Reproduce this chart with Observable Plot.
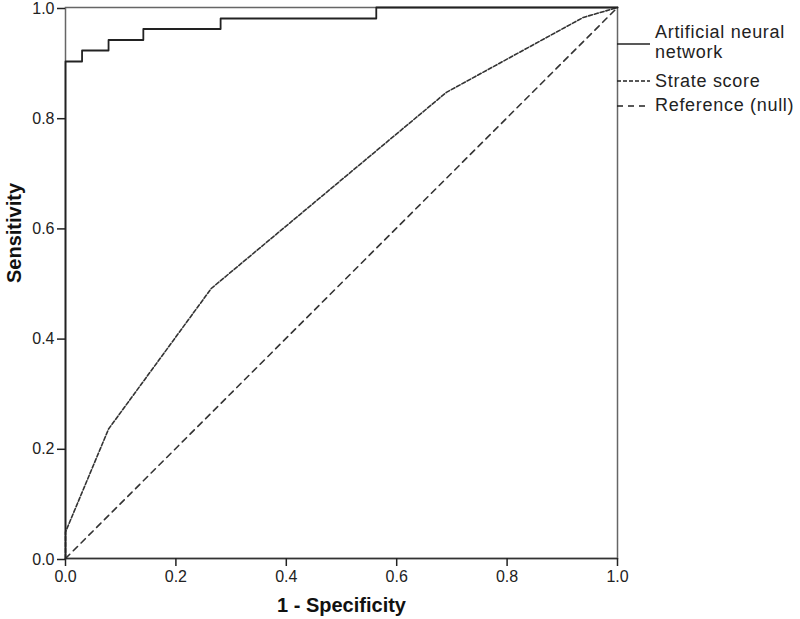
<!DOCTYPE html>
<html>
<head>
<meta charset="utf-8">
<script src="https://cdn.jsdelivr.net/npm/d3@7"></script>
<script src="https://cdn.jsdelivr.net/npm/@observablehq/plot@0.6"></script>
<style>
  html, body { margin: 0; padding: 0; background: #fff; }
  #chart { position: relative; width: 800px; height: 619px; }
  #legend { position: absolute; left: 0; top: 0; }
</style>
</head>
<body>
<div id="chart"></div>
<script>
// ROC curve data (1 - specificity, sensitivity)
const annFpr  = [0, 0, 0.030, 0.030, 0.078, 0.078, 0.141, 0.141, 0.281, 0.281, 0.563, 0.563, 1];
const annSens = [0, 0.902, 0.902, 0.922, 0.922, 0.941, 0.941, 0.961, 0.961, 0.980, 0.980, 1, 1];
const strateFpr  = [0, 0, 0.078, 0.264, 0.690, 0.938, 1];
const strateSens = [0, 0.048, 0.235, 0.490, 0.846, 0.982, 1];
const refFpr  = [0, 1];
const refSens = [0, 1];
const tickValues = [0, 0.2, 0.4, 0.6, 0.8, 1.0];
const seriesNames = ["Artificial neural network", "Strate score", "Reference (null)"];
const legendLines = [["Artificial neural", "network"], ["Strate score"], ["Reference (null)"]];
const dashes = [null, "4,2", "6,5"];

const ann = annFpr.map((x, i) => ({x, y: annSens[i]}));
const strate = strateFpr.map((x, i) => ({x, y: strateSens[i]}));
const ref = refFpr.map((x, i) => ({x, y: refSens[i]}));

const ML = 65, MR = 183, MT = 7, MB = 61;
const font = "Liberation Sans, Arial, sans-serif";

const plot = Plot.plot({
  width: 800,
  height: 619,
  marginLeft: ML,
  marginRight: MR,
  marginTop: MT,
  marginBottom: MB,
  style: {fontFamily: font, fontSize: "16px", color: "#222", background: "#fff", overflow: "visible"},
  x: {domain: [0, 1], ticks: tickValues, tickFormat: d3.format(".1f")},
  y: {domain: [0, 1], ticks: tickValues, tickFormat: d3.format(".1f")},
  marks: [
    Plot.frame({stroke: "#666", strokeWidth: 1.5}),
    Plot.ruleY([0], {stroke: "#333", strokeWidth: 1.5}),
    Plot.axisX({ticks: tickValues, tickFormat: d3.format(".1f"), tickSize: 8, tickPadding: 4, fontSize: 16, stroke: "#222", fill: "#222", strokeWidth: 1.5, label: null}),
    Plot.axisY({ticks: tickValues, tickFormat: d3.format(".1f"), tickSize: 8, tickPadding: 3, fontSize: 16, dy: 1, stroke: "#222", fill: "#222", strokeWidth: 1.5, label: null}),
    Plot.line(ref, {x: "x", y: "y", stroke: "#333", strokeWidth: 1.6, strokeDasharray: dashes[2]}),
    Plot.line(strate, {x: "x", y: "y", stroke: "#333", strokeWidth: 1.6, strokeDasharray: dashes[1]}),
    Plot.line(ann, {x: "x", y: "y", stroke: "#222", strokeWidth: 1.8}),
    Plot.text(["1 - Specificity"], {frameAnchor: "bottom", dy: 47, lineAnchor: "middle", fontWeight: "bold", fontSize: 20, fill: "#111"}),
    Plot.text(["Sensitivity"], {frameAnchor: "left", dx: -51, rotate: -90, lineAnchor: "middle", fontWeight: "bold", fontSize: 20, fill: "#111"})
  ]
});

const chart = document.getElementById("chart");
chart.appendChild(plot);

// Legend overlay (to the right of the plot frame)
const lg = d3.select(chart).append("svg")
  .attr("id", "legend")
  .attr("width", 800).attr("height", 619)
  .style("font-family", font);
const lineY = [44, 81, 106];
const textY = [[38, 58], [87], [111]];
seriesNames.forEach((name, i) => {
  lg.append("line")
    .attr("x1", 617).attr("x2", 650)
    .attr("y1", lineY[i]).attr("y2", lineY[i])
    .attr("stroke", "#222").attr("stroke-width", 1.6)
    .attr("stroke-dasharray", dashes[i]);
  legendLines[i].forEach((t, j) => {
    lg.append("text")
      .attr("x", 655).attr("y", textY[i][j])
      .attr("font-size", 18).attr("letter-spacing", "0.7px").attr("fill", "#222")
      .text(t);
  });
});
</script>
</body>
</html>
